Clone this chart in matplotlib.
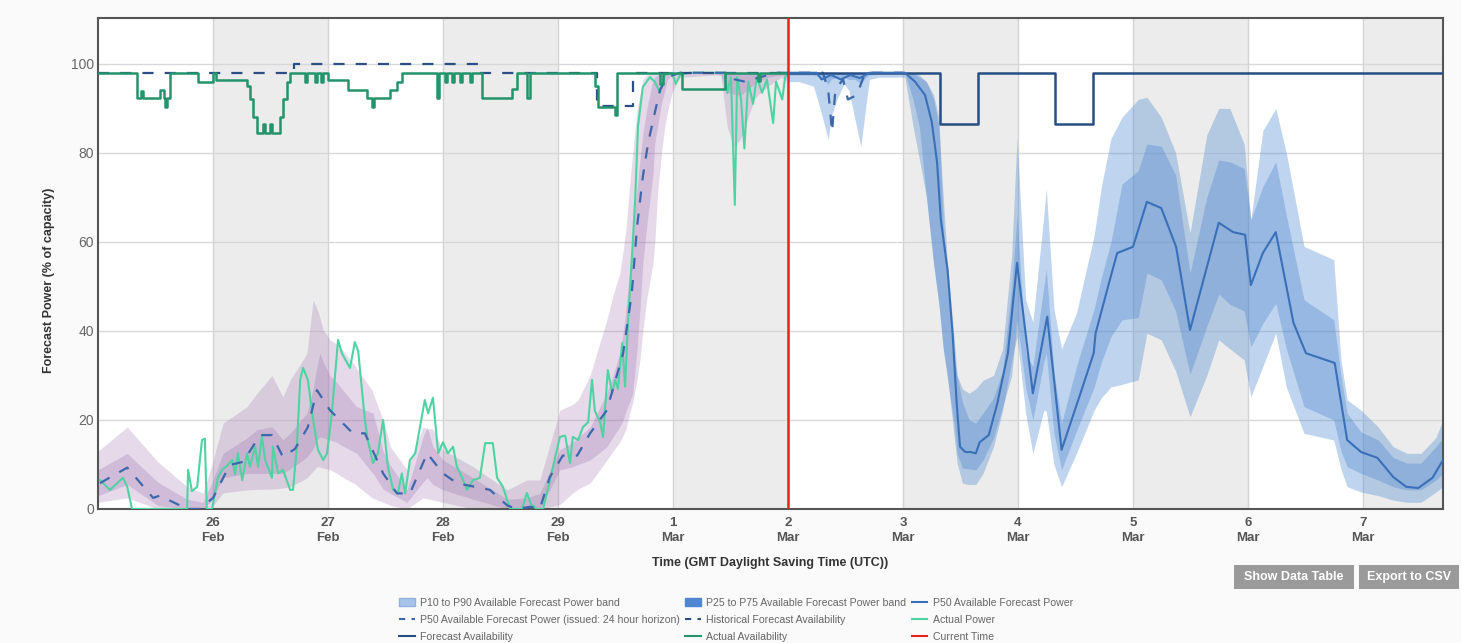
import matplotlib
matplotlib.use("Agg")
import matplotlib.pyplot as plt
from matplotlib.patches import Patch, Rectangle
from matplotlib.lines import Line2D

plt.rcParams['font.family'] = ['Liberation Sans', 'DejaVu Sans']

# ---------------- data (hours since 25 Feb 00:00 UTC) ----------------
day_ticks = [24, 48, 72, 96, 120, 144, 168, 192, 216, 240, 264]
day_labels = ["26\nFeb", "27\nFeb", "28\nFeb", "29\nFeb", "1\nMar", "2\nMar",
              "3\nMar", "4\nMar", "5\nMar", "6\nMar", "7\nMar"]
y_ticks = [0, 20, 40, 60, 80, 100]
now_h = 144

# Actual power
ap_t = [0.4, 2.5, 5.2, 6.1, 7.1, 18.6, 18.8, 19.6, 20.7, 21.7, 22.3, 22.7, 23.8, 25.0, 25.9,
        26.9, 28.0, 28.6, 29.2, 30.1, 31.1, 31.7, 32.8, 33.4, 34.2, 34.9, 36.3, 36.5, 37.6,
        38.6, 40.1, 40.7, 41.5, 42.2, 42.8, 43.8, 44.9, 45.9, 47.0, 47.8, 48.8, 50.1, 50.9,
        52.0, 52.6, 53.6, 54.3, 55.1, 55.7, 56.3, 57.4, 58.4, 59.5, 60.5, 61.6, 62.6, 63.4,
        64.1, 65.1, 66.2, 67.2, 68.2, 68.9, 69.9, 71.0, 72.0, 73.0, 74.1, 74.9, 76.0, 77.0,
        78.3, 79.7, 80.8, 82.4, 83.3, 84.5, 86.0, 88.5, 89.5, 90.4, 91.6, 92.9, 94.3, 96.4,
        97.5, 98.5, 99.1, 100.2, 101.2, 102.3, 103.1, 103.7, 104.8, 105.4, 106.4, 107.3,
        107.9, 108.5, 109.4, 110.0, 110.6, 111.4, 112.1, 112.7, 113.7, 115.2, 116.2, 117.3,
        118.3, 119.8, 120.6, 121.5, 123.5, 130.9, 131.3, 132.1, 132.9, 133.4, 134.2, 134.9,
        135.7, 136.7, 137.5, 138.6, 139.6, 140.9, 141.5, 142.8, 143.4, 143.8]
ap_v = [6.5, 4.3, 7.0, 5.0, 0, 0, 8.8, 4.0, 5.0, 15.5, 15.8, 0, 0, 7.0, 8.8,
        9.7, 11.0, 7.8, 12.5, 6.5, 12.5, 9.5, 14.0, 9.5, 16.2, 11.0, 7.0, 14.0, 8.0,
        8.8, 4.3, 4.3, 14.0, 29.0, 31.7, 29.0, 20.0, 13.3, 11.0, 12.5, 21.5, 38.0, 35.0,
        32.8, 31.7, 37.5, 35.5, 26.7, 20.0, 15.5, 10.3, 12.5, 20.0, 9.5, 4.3, 3.5, 8.0,
        3.5, 11.0, 12.5, 18.4, 24.5, 21.5, 25.0, 12.5, 15.0, 12.5, 14.0, 9.5, 7.0, 4.3,
        6.5, 7.0, 14.8, 14.8, 7.0, 5.0, 0, 0, 3.6, 1.0, 0, 0, 6.5, 16.2,
        16.5, 10.3, 16.2, 15.5, 18.4, 19.5, 29.0, 22.0, 19.5, 16.2, 31.2, 26.0,
        29.0, 27.0, 37.3, 27.5, 41.8, 56.0, 69.4, 86.0, 94.8, 97.0, 96.0, 93.5,
        97.5, 98.0, 95.5, 97.5, 98.0, 98.0, 93.5, 97.0, 68.3, 97.0, 92.0, 81.0,
        96.0, 91.0, 97.0, 93.5, 96.5, 86.7, 96.0, 92.0, 97.0, 97.5]

# Actual availability (step)
aa_t = [0, 8.1, 9.0, 9.4, 12.9, 13.8, 14.0, 14.4, 15.0, 20.9, 24.0, 24.6, 31.1, 31.7, 32.3,
        33.2, 34.4, 34.9, 35.9, 36.3, 38.0, 38.6, 39.4, 40.1, 43.2, 43.6, 45.3, 45.7, 46.5,
        47.0, 48.0, 52.2, 56.1, 57.2, 57.6, 60.9, 62.4, 63.4, 70.7, 71.2, 72.4, 72.8, 73.9,
        74.3, 75.5, 76.0, 77.6, 78.1, 80.1, 86.4, 87.4, 89.5, 90.2, 103.7, 104.4, 107.9,
        108.3, 117.3, 117.9, 121.9, 130.9, 137.7, 138.2, 144.0]
aa_v = [98, 92.3, 94, 92.3, 94.2, 92.3, 90.4, 92.3, 98, 96, 98, 96.4, 95, 92, 88,
        84.4, 86.5, 84.4, 86.5, 84.4, 88, 92, 96, 98, 96, 98, 96, 98, 96,
        98, 96.4, 94.2, 92.3, 90.4, 92.3, 94.2, 96, 98, 92.3, 98, 96, 98, 96,
        98, 96, 98, 96, 98, 92.3, 94.3, 98, 92.3, 98, 95, 90.4, 88.6,
        98, 95.4, 98, 94.3, 98, 96.2, 98, 98]

# Historical forecast availability (step)
hfa_t = [0, 41.0, 79.6, 104.2, 111.6, 144.0]
hfa_v = [98, 100, 98, 90.5, 98, 98]

# Forecast availability (step)
fa_t = [144, 175.7, 183.7, 199.7, 207.7, 281]
fa_v = [98, 86.5, 98, 86.5, 98, 98]

# P50 available forecast power (issued: 24 hour horizon)
p24_t = [0.4, 6.1, 11.5, 12.9, 18.6, 21.3, 24.0, 27.5, 30.3, 33.8, 36.3, 38.6, 41.1, 43.8,
         45.7, 48.4, 53.2, 55.7, 59.5, 62.4, 65.1, 68.7, 72.0, 74.9, 81.8, 85.4, 87.4, 90.2,
         92.2, 94.3, 97.0, 100.0, 102.7, 106.2, 109.6, 111.4, 112.5, 113.7, 114.8, 116.2,
         117.3, 118.8, 121.5, 131.9, 132.9, 135.0, 138.2, 141.3, 151.3, 152.4, 153.2, 153.8,
         154.4, 155.5, 156.5, 158.4, 159.4, 160.1, 168.0]
p24_v = [5.8, 9.3, 2.5, 3.0, 0, 0, 2.5, 9.9, 10.6, 16.6, 16.6, 11.7, 13.5, 18.4,
         26.7, 22.2, 17.0, 17.0, 8.0, 3.5, 3.5, 12.5, 8.0, 5.8, 4.3, 0.8, 0, 0.5,
         0, 7.2, 12.0, 12.0, 17.0, 22.2, 35.0, 48.5, 63.4, 74.6, 82.2, 89.0,
         94.2, 97.0, 98.0, 98.0, 96.5, 96.0, 97.0, 98.0, 98.0, 94.0, 84.7, 93.0,
         95.0, 96.5, 92.0, 93.0, 96.0, 98.0, 98.0]

# Past (historical) bands
hb_t = [0, 6.1, 12.5, 18.6, 21.9, 23.8, 26.1, 31.1, 33.2, 36.3, 38.6, 40.1, 42.8, 43.6,
        44.9, 45.7, 46.3, 47.0, 48.4, 49.9, 50.5, 53.8, 54.0, 57.2, 57.4, 59.5, 60.9,
        61.0, 64.5, 67.8, 68.7, 69.9, 72.0, 78.3, 85.4, 89.5, 92.2, 96.4, 99.1, 100.2,
        102.7, 106.2, 107.5, 108.9, 109.6, 110.2, 111.1, 111.6, 112.5, 113.1, 113.7,
        114.5, 115.8, 116.2, 116.8, 117.6, 118.3, 118.8, 119.8, 121.1, 121.5, 128.9,
        130.0, 131.3, 132.6, 134.0, 134.2, 137.0, 137.7, 139.8, 142.6, 144.0]
hb_p90 = [13, 18.4, 10.6, 5, 3.6, 10, 19.3, 23, 26, 30, 25.2, 29, 33.5, 35,
          47, 45, 43, 40.2, 38, 37, 36.4, 32, 31.5, 26.7, 26, 20, 14.5,
          14, 8.8, 18.4, 18, 18, 13.3, 9.5, 4.3, 6.5, 6.5, 22.2, 23.5, 24.5,
          30, 42.5, 48, 53, 58, 63, 74.6, 80, 89.7, 93, 96.4,
          97.5, 98, 98, 98, 98, 98, 98, 98, 98, 98, 98,
          98, 98, 98, 98, 98, 98, 98, 98, 98, 98]
hb_p10 = [1.5, 2.5, 0, 0, 0, 0.5, 3.6, 4.3, 4.4, 4.5, 4.7, 5, 6.5, 7,
          8.5, 9.5, 9.4, 9.2, 8.8, 8, 7.5, 5.5, 5.3, 2.5, 2.4, 1.5, 0.9,
          0.8, 0, 2.5, 2.3, 2, 1.5, 0, 0, 0, 0, 1, 3.6, 4.5,
          5.8, 11, 13, 15, 16.5, 18, 22, 24, 29, 33.5, 40,
          47, 55, 60, 71, 80, 86, 89, 93.5, 96.5, 97, 97.5,
          97.5, 86, 81.3, 83, 83.5, 92, 93, 95, 97, 96]
hb_p75 = [8.8, 12.5, 6, 2.2, 1.5, 6, 12.5, 16, 17.8, 18.5, 15.5, 17, 20.5, 21.5,
          27, 32, 35, 33, 30, 28.3, 27.5, 23.2, 23, 21.6, 21.5, 13, 10,
          9.8, 4.3, 16, 18.4, 14, 11, 7, 2.2, 2.5, 3.5, 13.3, 15, 16,
          18.4, 26, 30, 35, 39.5, 45, 55, 63.4, 72, 78.4, 84,
          89.7, 96.4, 97, 97.5, 98, 98, 98, 98, 98, 98, 98,
          98, 98, 98, 98, 98, 98, 98, 98, 98, 98]
hb_p25 = [3, 5.5, 0.8, 0, 0, 2, 7, 8, 8, 8, 8, 9, 11, 11.7,
          13.5, 15.5, 16.2, 16, 15.5, 15, 14.5, 12.6, 12.5, 8.2, 8, 4.5, 3.6,
          3.5, 1.5, 6, 7, 5.5, 4.3, 2.2, 0, 0, 0, 8.8, 9.5, 10,
          11, 14, 16.2, 18.5, 20, 22, 24.5, 26, 36, 44.7, 55,
          63.4, 75, 82.2, 86, 91.2, 94, 96.4, 97.5, 98, 98, 97.8,
          97.5, 93.5, 93.2, 93, 93, 95.5, 96, 97, 97.5, 97]

# Forecast bands (from current time)
fb_t = [144, 146.3, 149.3, 150.7, 152.4, 153.0, 154.2, 155.7, 156.7, 158.0, 159.2, 160.3,
        161.0, 163.0, 168.4, 170.1, 171.4, 172.9, 174.4, 175.5, 176.4, 177.3, 178.7,
        179.3, 180.4, 181.8, 183.2, 184.7, 186.9, 188.8, 190.7, 191.8, 193.6, 195.1,
        197.4, 197.9, 199.5, 201.1, 204.2, 207.9, 209.4, 211.4, 213.7, 217.1, 218.9,
        221.9, 224.9, 227.9, 231.4, 233.9, 236.2, 239.2, 240.6, 243.1, 245.8, 248.0,
        251.7, 257.9, 259.4, 260.7, 263.6, 267.2, 270.3, 273.2, 276.1, 279.2, 280.7]
fb_p90 = [98, 98, 98, 98, 98, 98, 98, 98, 98, 98, 98, 98,
          98, 98, 98, 98, 97, 96, 92, 86, 70, 55, 38,
          30, 27, 26, 27, 28.9, 30, 36, 57.5, 83.5, 47, 42,
          66, 72, 45, 36, 44, 61.5, 72.4, 83.2, 88, 92, 92.5,
          88, 80, 62, 84, 90, 90, 82, 65, 85, 90, 80,
          59, 56, 33.5, 24.5, 22.2, 18.4, 14, 12.5, 12.5, 16, 20]
fb_p10 = [96, 96, 95, 90, 83, 88, 92, 95.5, 94, 87.4, 81.4, 91,
          96.5, 97, 97, 86, 78.7, 70, 55, 46, 36, 30, 16,
          10.3, 5.8, 5.5, 5.5, 8, 14, 22.2, 33.5, 38.7, 21.5, 12.5,
          22.2, 22, 10, 5, 12.5, 22.2, 25, 27.4, 28, 29, 39.5,
          38, 31, 20.7, 30, 38, 36, 33.5, 25.2, 32, 39.5, 27.4,
          17, 15.5, 9, 5, 3.8, 3, 2, 1.5, 1.5, 3.8, 5]
fb_p75 = [98, 98, 98, 98, 98, 98, 98, 98, 98, 98, 98, 98,
          98, 98, 98, 98, 97.5, 96, 93, 88, 64, 50, 34,
          30, 24, 20, 19.3, 21.5, 25, 31, 50, 66, 35, 32,
          50, 54, 31, 19.3, 32, 45, 52, 60, 73, 76, 82,
          81.5, 75, 53, 70, 78.4, 78, 76.5, 65, 72.4, 78, 66,
          47, 42.5, 30, 21.5, 17.3, 15.5, 11.6, 10.3, 10.3, 14, 16]
fb_p25 = [97.5, 97.5, 97.5, 97, 95.5, 96.5, 97, 97, 96.5, 96.5, 95.5, 97,
          97.5, 98, 98, 92, 86, 70, 55, 46, 36, 29, 19,
          12.5, 9.2, 9, 8.8, 11, 16, 23, 30, 42.5, 27.4, 20,
          33, 35, 17, 8.8, 17.5, 27.4, 33, 38.7, 42.5, 43, 53,
          51.5, 44.5, 30.3, 41, 48.3, 46, 44.5, 36.4, 41.7, 46.2, 36,
          23, 20, 13, 9.5, 8, 6.5, 5, 4.3, 4.3, 6.5, 8]

# P50 available forecast power
p50_t = [144, 150, 151, 153, 155, 157, 159, 161, 168.4, 170.5, 172.6, 174.0, 175.1, 175.9,
         177.3, 178.4, 179.2, 179.9, 181.0, 182.1, 183.2, 184.0, 185.9, 187.7, 189.9, 191.8,
         195.1, 198.1, 201.1, 204.8, 207.8, 208.2, 210.8, 212.7, 216.0, 218.9, 221.9, 225.0,
         227.9, 233.9, 236.9, 239.4, 240.6, 243.1, 245.8, 249.5, 252.1, 258.1, 260.7, 263.6,
         267.0, 270.3, 273.0, 275.5, 278.5, 280.7]
p50_v = [98, 98, 96.5, 97.5, 96.5, 97.5, 96.8, 98, 98, 96, 93, 87, 78, 65,
         53.7, 38.7, 23.8, 14, 12.8, 12.8, 12.5, 15, 16.6, 23.8, 35, 55.3,
         26, 43.2, 13.3, 25.2, 35, 39.5, 50, 57.5, 58.9, 69, 67.6, 58.9,
         40.2, 64.3, 62.2, 61.6, 50.3, 57.5, 62.2, 41.8, 35, 32.8, 15.5, 12.8,
         11.5, 7.2, 5, 4.7, 7, 11]

# ---------------- figure ----------------
W, H = 1461, 643
fig = plt.figure(figsize=(W / 100, H / 100), dpi=100, facecolor='#fafafa')
ax = fig.add_axes([98 / W, 1 - 509 / H, (1443 - 98) / W, (509 - 18) / H])
ax.set_facecolor('white')
ax.set_xlim(0, 280.7)
ax.set_ylim(0, 110.3)

for k in range(1, 12, 2):
    ax.axvspan(day_ticks[k - 1], min(day_ticks[k - 1] + 24, 281), color='#ececec', zorder=0, lw=0)
for t in day_ticks:
    ax.axvline(t, color='#d4d4d4', lw=1, zorder=0.5)
for yv in y_ticks[1:]:
    ax.axhline(yv, color='#d8d8d8', lw=1, zorder=0.5)

purple = '#9b6fb0'
blue = '#4a86cf'
ax.fill_between(hb_t, hb_p10, hb_p90, color=purple, alpha=0.26, lw=0, zorder=1)
ax.fill_between(hb_t, hb_p25, hb_p75, color=purple, alpha=0.28, lw=0, zorder=1.1)
ax.fill_between(fb_t, fb_p10, fb_p90, color=blue, alpha=0.35, lw=0, zorder=1)
ax.fill_between(fb_t, fb_p25, fb_p75, color=blue, alpha=0.35, lw=0, zorder=1.1)

ax.plot(ap_t, ap_v, color='#4fd3a2', lw=1.5, zorder=3)
ax.plot(p24_t, p24_v, color='#3d68ac', lw=1.6, ls=(0, (5, 5)), zorder=3.2)
ax.step(hfa_t, hfa_v, where='post', color='#2b4f84', lw=1.6, ls=(0, (5, 5)), zorder=3.3)
ax.step(aa_t, aa_v, where='post', color='#23946c', lw=1.8, zorder=3.4)
ax.step(fa_t, fa_v, where='post', color='#264e82', lw=1.8, zorder=3.5)
ax.plot(p50_t, p50_v, color='#3a70b8', lw=1.5, zorder=3.6)
ax.axvline(now_h, color='#e8231e', lw=1.8, zorder=4)

ax.set_xticks(day_ticks)
ax.set_xticklabels(day_labels, fontsize=9.5, fontweight='bold', color='#555555', linespacing=1.25)
ax.set_yticks(y_ticks)
ax.set_yticklabels([str(v) for v in y_ticks], fontsize=10, color='#666666')
ax.tick_params(axis='x', length=0, pad=6)
ax.tick_params(axis='y', length=0, pad=3)
for s in ax.spines.values():
    s.set_color('#555555')
    s.set_linewidth(1.5)

fig.text(770 / W, 1 - 563 / H, "Time (GMT Daylight Saving Time (UTC))", ha='center', va='center',
         fontsize=9, fontweight='bold', color='#333333')
fig.text(49 / W, 1 - 280 / H, "Forecast Power (% of capacity)", ha='center', va='center',
         rotation=90, fontsize=9, fontweight='bold', color='#333333')

# buttons
for (x0, x1, label) in [(1234, 1354, "Show Data Table"), (1359, 1459, "Export to CSV")]:
    fig.add_artist(Rectangle((x0 / W, 1 - 589 / H), (x1 - x0) / W, 24 / H,
                             transform=fig.transFigure, facecolor='#9a9a9a', edgecolor='none'))
    fig.text((x0 + x1) / 2 / W, 1 - 577 / H, label, ha='center', va='center',
             fontsize=9, fontweight='bold', color='white')

# legend
h_p1090 = Patch(facecolor='#a7c4e8', edgecolor='#8fb2e0')
h_p2575 = Patch(facecolor='#4f86cf', edgecolor='#4f86cf')
h_p50 = Line2D([], [], color='#3a70b8', lw=1.5)
h_p24 = Line2D([], [], color='#3d68ac', lw=1.5, ls=(0, (3, 3)))
h_hfa = Line2D([], [], color='#2b4f84', lw=1.5, ls=(0, (3, 3)))
h_ap = Line2D([], [], color='#4fd3a2', lw=1.5)
h_fa = Line2D([], [], color='#264e82', lw=1.5)
h_aa = Line2D([], [], color='#23946c', lw=1.5)
h_now = Line2D([], [], color='#e8231e', lw=1.5)
handles = [h_p1090, h_p24, h_fa, h_p2575, h_hfa, h_aa, h_p50, h_ap, h_now]
labels = ["P10 to P90 Available Forecast Power band",
          "P50 Available Forecast Power (issued: 24 hour horizon)",
          "Forecast Availability",
          "P25 to P75 Available Forecast Power band",
          "Historical Forecast Availability",
          "Actual Availability",
          "P50 Available Forecast Power",
          "Actual Power",
          "Current Time"]
leg = fig.legend(handles, labels, ncol=3, loc='center', bbox_to_anchor=(736 / W, 1 - 620 / H),
                 frameon=False, fontsize=7.6, labelcolor='#666666', handlelength=1.5,
                 handleheight=0.9, handletextpad=0.5, columnspacing=0.5, labelspacing=0.7,
                 borderaxespad=0, borderpad=0)

fig.savefig("out.png", dpi=100, facecolor=fig.get_facecolor())
